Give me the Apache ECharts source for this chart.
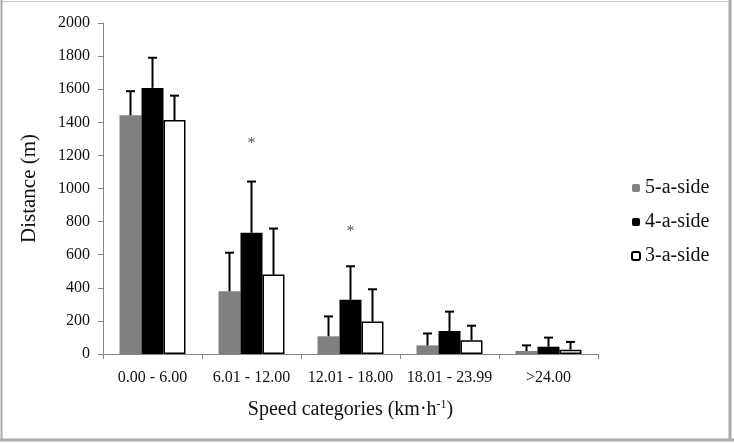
<!DOCTYPE html>
<html>
<head>
<meta charset="utf-8">
<script src="https://cdn.jsdelivr.net/npm/echarts@6/dist/echarts.min.js"></script>
<style>
html,body{margin:0;padding:0;background:#fff;}
#chart{width:734px;height:443px;}
</style>
</head>
<body>
<div id="chart"></div>
<script>
var categories = ['0.00 - 6.00', '6.01 - 12.00', '12.01 - 18.00', '18.01 - 23.99', '>24.00'];
var yTicks = [0, 200, 400, 600, 800, 1000, 1200, 1400, 1600, 1800, 2000];
var fiveMean = [1442, 379, 107, 52, 18];
var fiveSD = [146, 233, 120, 72, 34];
var fourMean = [1608, 733, 328, 139, 44];
var fourSD = [182, 309, 202, 117, 55];
var threeMean = [1414, 480, 196, 83, 26];
var threeSD = [147, 278, 195, 88, 47];
var asteriskCats = [1, 2];
var asteriskVals = [1270, 736];
var seriesNames = ['5-a-side', '4-a-side', '3-a-side'];

var FONT = '"Liberation Serif", "Times New Roman", serif';
var BAR_W = 22;

function errData(mean, sd) {
  return mean.map(function (m, i) { return [i, m, sd[i]]; });
}
function errSeries(mean, sd, k) {
  return {
    type: 'custom',
    data: errData(mean, sd),
    encode: { x: 0, y: 1 },
    z: 5,
    silent: true,
    renderItem: function (params, api) {
      var idx = api.value(0);
      var base = api.coord([idx, api.value(1)]);
      var top = api.coord([idx, api.value(1) + api.value(2)]);
      var x = base[0] + (k - 1) * BAR_W;
      return {
        type: 'group',
        children: [
          { type: 'line', shape: { x1: x, y1: base[1], x2: x, y2: top[1] }, style: { stroke: '#000', lineWidth: 2 } },
          { type: 'line', shape: { x1: x - 4.5, y1: top[1], x2: x + 4.5, y2: top[1] }, style: { stroke: '#000', lineWidth: 2 } }
        ]
      };
    }
  };
}

var chart = echarts.init(document.getElementById('chart'));
chart.setOption({
  backgroundColor: '#fff',
  animation: false,
  textStyle: { fontFamily: FONT },
  grid: { left: 103, right: 136, top: 23, bottom: 89 },
  legend: {
    data: seriesNames,
    orient: 'vertical',
    left: 626,
    top: 173,
    itemWidth: 8,
    itemHeight: 8,
    itemGap: 14,
    textStyle: { fontFamily: FONT, fontSize: 20, color: '#111' },
    selectedMode: false
  },
  xAxis: {
    type: 'category',
    data: categories,
    axisLine: { lineStyle: { color: '#888', width: 1 } },
    axisTick: { show: true, length: 5, lineStyle: { color: '#888' } },
    axisLabel: { fontFamily: FONT, fontSize: 16, color: '#111', margin: 16, interval: 0 },
    name: '{a|Speed categories (km·h}{s|-1}{a|)}',
    nameLocation: 'middle',
    nameGap: 45,
    nameTextStyle: {
      fontFamily: FONT,
      rich: {
        a: { fontFamily: FONT, fontSize: 20, color: '#111' },
        s: { fontFamily: FONT, fontSize: 12, color: '#111', padding: [0, 0, 9, 0] }
      }
    }
  },
  yAxis: {
    type: 'value',
    min: yTicks[0],
    max: yTicks[yTicks.length - 1],
    interval: yTicks[1] - yTicks[0],
    splitLine: { show: false },
    axisLine: { show: true, lineStyle: { color: '#888', width: 1 } },
    axisTick: { show: true, length: 5, lineStyle: { color: '#888' } },
    axisLabel: { fontFamily: FONT, fontSize: 16, color: '#111', margin: 13,
      formatter: function (v) { return String(v); } },
    name: 'Distance (m)',
    nameLocation: 'middle',
    nameGap: 63,
    nameTextStyle: { fontFamily: FONT, fontSize: 21, color: '#111' }
  },
  series: [
    { name: seriesNames[0], type: 'bar', data: fiveMean, barWidth: BAR_W, barGap: '0%',
      itemStyle: { color: '#808080' } },
    { name: seriesNames[1], type: 'bar', data: fourMean, barWidth: BAR_W, barGap: '0%',
      itemStyle: { color: '#000' } },
    { name: seriesNames[2], type: 'bar', data: threeMean, barWidth: BAR_W, barGap: '0%',
      itemStyle: { color: '#fff', borderColor: '#000', borderWidth: 1.5 } },
    errSeries(fiveMean, fiveSD, 0),
    errSeries(fourMean, fourSD, 1),
    errSeries(threeMean, threeSD, 2),
    {
      type: 'custom',
      data: asteriskCats.map(function (c, i) { return [c, asteriskVals[i]]; }),
      encode: { x: 0, y: 1 },
      silent: true,
      z: 6,
      renderItem: function (params, api) {
        var p = api.coord([api.value(0), api.value(1)]);
        return { type: 'text', x: p[0], y: p[1],
          style: { text: '*', fill: '#555', font: '16px ' + FONT, align: 'center', verticalAlign: 'middle' } };
      }
    }
  ],
  graphic: [
    { type: 'rect', shape: { x: 1.5, y: 1.5, width: 729, height: 438 }, style: { fill: 'none', stroke: '#c8c8c8', lineWidth: 1 }, silent: true },
    { type: 'line', shape: { x1: 1.5, y1: 0, x2: 1.5, y2: 441 }, style: { stroke: '#aaa', lineWidth: 2 }, silent: true },
    { type: 'line', shape: { x1: 730, y1: 0, x2: 730, y2: 441 }, style: { stroke: '#aaa', lineWidth: 3 }, silent: true },
    { type: 'line', shape: { x1: 0, y1: 440, x2: 734, y2: 440 }, style: { stroke: '#aaa', lineWidth: 3 }, silent: true }
  ]
});
</script>
</body>
</html>
